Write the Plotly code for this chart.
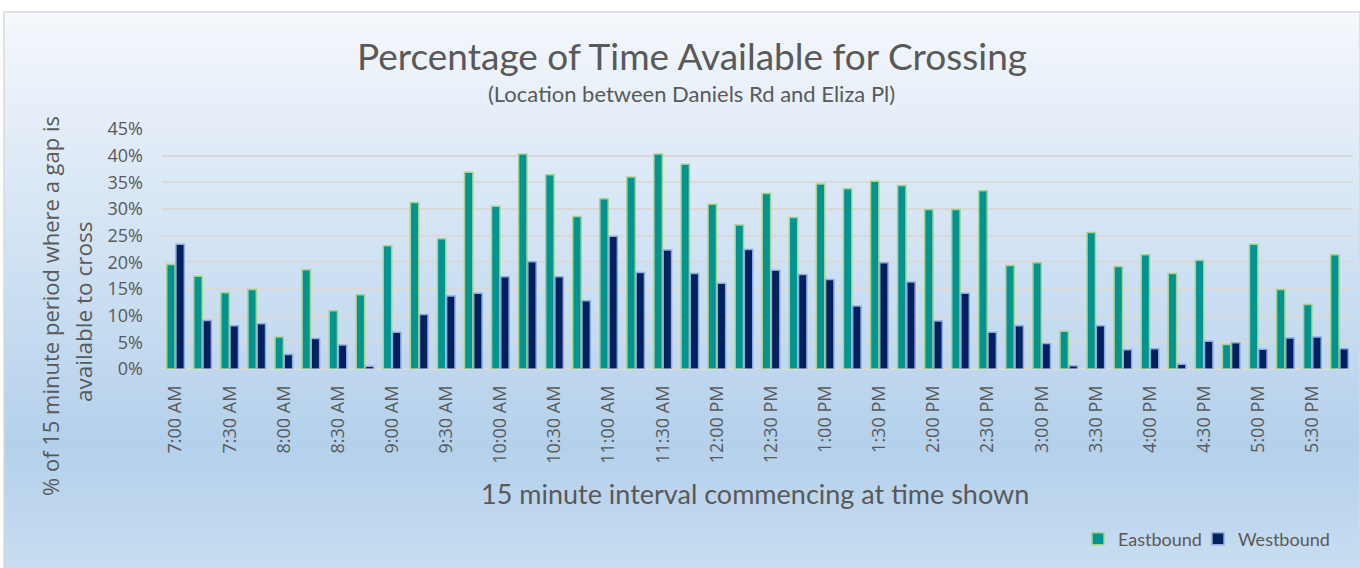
import plotly.graph_objects as go

categories = [
    "7:00 AM", "7:15 AM", "7:30 AM", "7:45 AM", "8:00 AM", "8:15 AM", "8:30 AM", "8:45 AM",
    "9:00 AM", "9:15 AM", "9:30 AM", "9:45 AM", "10:00 AM", "10:15 AM", "10:30 AM", "10:45 AM",
    "11:00 AM", "11:15 AM", "11:30 AM", "11:45 AM", "12:00 PM", "12:15 PM", "12:30 PM", "12:45 PM",
    "1:00 PM", "1:15 PM", "1:30 PM", "1:45 PM", "2:00 PM", "2:15 PM", "2:30 PM", "2:45 PM",
    "3:00 PM", "3:15 PM", "3:30 PM", "3:45 PM", "4:00 PM", "4:15 PM", "4:30 PM", "4:45 PM",
    "5:00 PM", "5:15 PM", "5:30 PM", "5:45 PM",
]

eastbound = [
    19.6, 17.4, 14.3, 14.9, 6.0, 18.6, 10.9, 13.9, 23.1, 31.2, 24.4, 36.9,
    30.5, 40.3, 36.4, 28.6, 31.9, 36.0, 40.3, 38.4, 30.9, 27.0, 32.9, 28.4,
    34.7, 33.8, 35.2, 34.4, 29.9, 29.9, 33.4, 19.4, 19.9, 7.1, 25.6, 19.2,
    21.4, 17.9, 20.4, 4.6, 23.4, 14.9, 12.1, 21.4,
]

westbound = [
    23.4, 9.1, 8.1, 8.5, 2.7, 5.7, 4.5, 0.5, 6.9, 10.2, 13.7, 14.2,
    17.3, 20.1, 17.3, 12.8, 24.9, 18.1, 22.3, 17.9, 16.1, 22.4, 18.5, 17.7,
    16.8, 11.8, 19.9, 16.3, 9.0, 14.2, 6.9, 8.1, 4.8, 0.6, 8.1, 3.6,
    3.8, 0.9, 5.2, 4.9, 3.7, 5.8, 6.0, 3.8,
]

tick_vals = categories[::2]
tick_text = [
    "7:00 AM", "7:30 AM", "8:00 AM", "8:30 AM", "9:00 AM", "9:30 AM", "10:00 AM", "10:30 AM",
    "11:00 AM", "11:30 AM", "12:00 PM", "12:30 PM", "1:00 PM", "1:30 PM", "2:00 PM", "2:30 PM",
    "3:00 PM", "3:30 PM", "4:00 PM", "4:30 PM", "5:00 PM", "5:30 PM",
]

W, H = 1360, 568
TXT = "#595959"


def hx(c):
    c = c.lstrip("#")
    return tuple(int(c[i:i + 2], 16) for i in (0, 2, 4))


def lerp_stops(stops, t):
    for (t0, c0), (t1, c1) in zip(stops, stops[1:]):
        if t0 <= t <= t1:
            f = (t - t0) / (t1 - t0) if t1 > t0 else 0
            a, b = hx(c0), hx(c1)
            return "rgb(%d,%d,%d)" % tuple(round(a[i] + (b[i] - a[i]) * f) for i in range(3))
    return stops[-1][1]


grad_stops = [(0.0, "#f5f8fc"), (0.2, "#e4edf8"), (0.5, "#cbdff2"), (0.78, "#b4d0eb"), (1.0, "#c8ddf1")]

fig = go.Figure()
fig.add_trace(go.Bar(
    name="Eastbound", x=categories, y=[v / 100 for v in eastbound], legend="legend",
    marker=dict(color="#009490", line=dict(color="#a9d18e", width=1.5)),
))
fig.add_trace(go.Bar(
    name="Westbound", x=categories, y=[v / 100 for v in westbound], legend="legend2",
    marker=dict(color="#002060", line=dict(color="#8faadc", width=1.5)),
))

# background gradient panel
top_px, bot_px, left_px = 12, 568, 4
n = 90
shapes = []
for i in range(n):
    y0p = top_px + (bot_px - top_px) * i / n
    y1p = top_px + (bot_px - top_px) * (i + 1) / n + 0.8
    shapes.append(dict(
        type="rect", xref="paper", yref="paper", layer="below",
        x0=left_px / W, x1=1.0, y0=1 - min(y1p, bot_px) / H, y1=1 - y0p / H,
        fillcolor=lerp_stops(grad_stops, (i + 0.5) / n), line=dict(width=0),
    ))
shapes.append(dict(
    type="rect", xref="paper", yref="paper", layer="below",
    x0=left_px / W, x1=1.0, y0=0, y1=1 - top_px / H,
    fillcolor="rgba(0,0,0,0)", line=dict(color="#d9d9d9", width=1.5),
))


def ann(text, x, y, size, family="Lato", angle=0):
    return dict(text=text, x=x / W, y=1 - y / H, xref="paper", yref="paper", showarrow=False,
                xanchor="center", yanchor="middle", textangle=angle,
                font=dict(family=family, size=size, color=TXT))


annotations = [
    ann("Percentage of Time Available for Crossing", 692, 56, 37),
    ann("(Location between Daniels Rd and Eliza Pl)", 691, 93, 22),
    ann("15 minute interval commencing at time shown", 755, 493, 27),
    ann("% of 15 minute period where a gap is", 50, 306, 22, "Open Sans", -90),
    ann("available to cross", 83, 312, 22.5, "Open Sans", -90),
]

legend_common = dict(orientation="h", xanchor="left", y=1 - 539 / H, yanchor="middle",
                     bgcolor="rgba(0,0,0,0)", font=dict(family="Lato", size=18, color=TXT),
                     itemwidth=30)

fig.update_layout(
    width=W, height=H,
    margin=dict(l=0, r=0, t=0, b=0),
    paper_bgcolor="white", plot_bgcolor="rgba(0,0,0,0)",
    barmode="group", bargap=0.32, bargroupgap=0.09,
    shapes=shapes, annotations=annotations,
    showlegend=True,
    legend=dict(x=1078 / W, **legend_common),
    legend2=dict(x=1198 / W, **legend_common),
    xaxis=dict(domain=[162 / W, 1353 / W], tickmode="array", tickvals=tick_vals, ticktext=tick_text,
               tickangle=-90, ticks="", ticklabelstandoff=12, showgrid=False, showline=False,
               automargin=False, tickfont=dict(family="Open Sans", size=18, color=TXT)),
    yaxis=dict(domain=[1 - 369 / H, 1 - 129 / H], range=[0, 0.45], dtick=0.05, tickformat=".0%",
               showgrid=True, gridcolor="#d9d9d9", gridwidth=1.5, zeroline=True, zerolinecolor="#d9d9d9",
               zerolinewidth=1.5, showline=False, ticks="", ticklabelstandoff=18, automargin=False,
               tickfont=dict(family="Open Sans", size=18, color=TXT)),
)

fig.write_html("out.html", config={"displayModeBar": False},
               post_script="document.body.style.margin='0';document.body.style.overflow='hidden';")
